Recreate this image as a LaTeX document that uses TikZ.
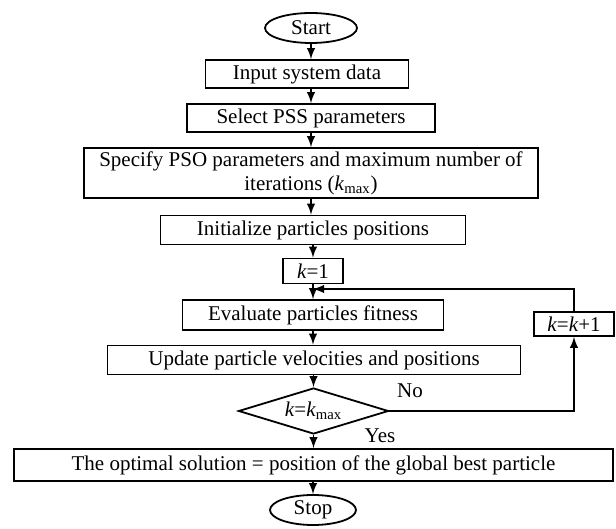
\documentclass[tikz,border=0pt]{standalone}
\usepackage{fontspec}
\setmainfont{Liberation Serif}
\usepackage{tikz}
\usetikzlibrary{shapes,arrows,positioning}

\begin{document}
\begin{tikzpicture}[x=0.5pt, y=-0.5pt, font=\fontsize{10.5}{12}\selectfont]
			\tikzstyle{Term}	= [ellipse, draw, line width=0.9pt, inner sep=0pt]
			\tikzstyle{Box}		= [rectangle, draw, line width=0.9pt, inner sep=1pt, align=center]
			\tikzstyle{Test}	= [diamond, draw, line width=0.9pt, inner sep=0pt, aspect=3]
			\tikzstyle{Flow}	= [-latex, line width=0.9pt]
			\tikzstyle{Tag}		= [inner sep=0pt]

			\useasboundingbox (0,0) rectangle (616,529);

			\node (start) at (311,28) [Term][minimum width=46pt, minimum height=15pt] {Start};
			\node (input) at (307,74) [Box][minimum width=101.5pt, minimum height=14pt] {Input system data};
			\node (pss) at (311,118) [Box][minimum width=124pt, minimum height=14pt] {Select PSS parameters};
			\node (pso) at (311,173) [Box][minimum width=227pt, minimum height=25pt] {Specify PSO parameters and maximum number of\\iterations (\textit{k}\textsubscript{max})};
			\node (init) at (313,230) [Box][minimum width=152.5pt, minimum height=14.5pt] {Initialize particles positions};
			\node (k1) at (313,271) [Box][minimum width=30pt, minimum height=12.5pt] {\textit{k}=1};
			\node (eval) at (313,315) [Box][minimum width=130.5pt, minimum height=15pt] {Evaluate particles fitness};
			\node (upd) at (314,360) [Box][minimum width=206.5pt, minimum height=14.5pt] {Update particle velocities and positions};
			\node (test) at (313.5,411) [Test][minimum width=75pt, minimum height=23pt] {\raisebox{-2pt}{\textit{k}=\textit{k}\textsubscript{max}}};
			\node (kinc) at (574,324) [Box][minimum width=40pt, minimum height=12pt] {\textit{k}=\textit{k}+1};
			\node (best) at (313.5,465) [Box][minimum width=299.5pt, minimum height=16pt] {The optimal solution = position of the global best particle};
			\node (stop) at (313,510) [Term][minimum width=43pt, minimum height=15pt] {Stop};

			\node (no) at (410,391) [Tag] {No};
			\node (yes) at (380,436) [Tag] {Yes};

			\coordinate (c1) at (574,411);
			\coordinate (c2) at (313,289);

			\draw [Flow] (start) to (input.north -| start);
			\draw [Flow] (input.south -| pss) to (pss);
			\draw [Flow] (pss) to (pso);
			\draw [Flow] (pso) to (init.north -| pso);
			\draw [Flow] (init.south -| k1) to (k1);
			\draw [Flow] (k1) to (eval);
			\draw [Flow] (eval) to (upd.north -| eval);
			\draw [Flow] (upd.south -| test) to (test);
			\draw [Flow] (test.east) -- (c1) -- (kinc.south);
			\draw [Flow] (kinc.north) |- (c2);
			\draw [Flow] (test.south) to (best.north -| test);
			\draw [Flow] (best.south -| stop) to (stop);
		\end{tikzpicture}
\end{document}
